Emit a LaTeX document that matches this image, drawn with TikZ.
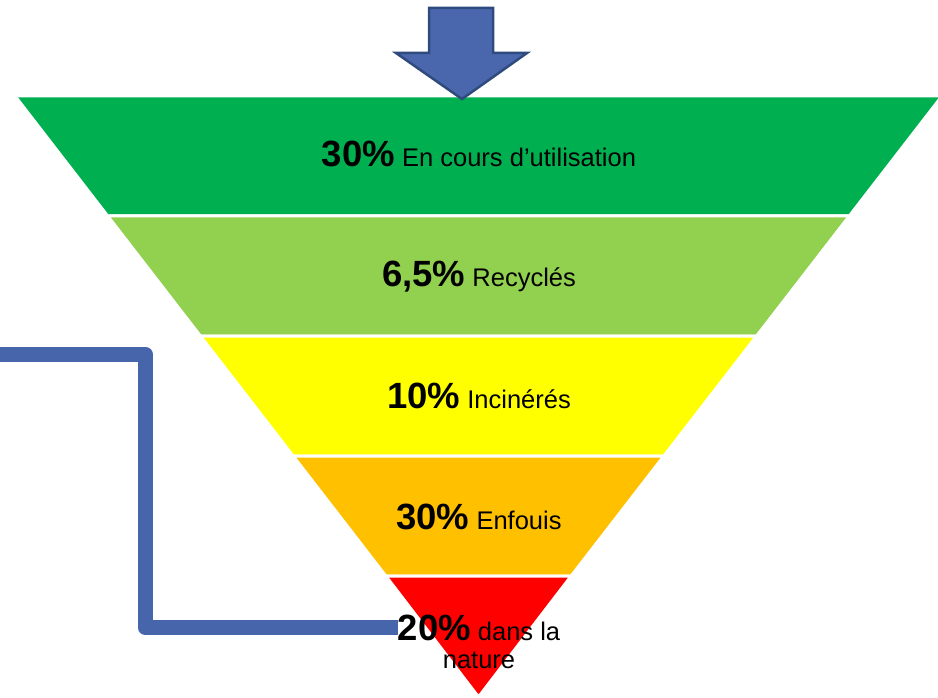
\documentclass[tikz,border=0pt]{standalone}
\usepackage{fontspec}
\setmainfont{Liberation Sans}
\usetikzlibrary{backgrounds}

\definecolor{bandA}{HTML}{00B050}
\definecolor{bandB}{HTML}{92D050}
\definecolor{bandC}{HTML}{FFFF00}
\definecolor{bandD}{HTML}{FFC000}
\definecolor{bandE}{HTML}{FF0000}
\definecolor{arrowfill}{HTML}{4A67AD}
\definecolor{arrowedge}{HTML}{2F4B7E}
\definecolor{loopblue}{HTML}{4665AA}

% big bold share in front of each label
\newcommand{\bandpct}[1]{{\fontsize{36.5}{40}\selectfont\bfseries #1}}

\begin{document}
\begin{tikzpicture}[x=1pt, y=-1pt,
    every node/.style={inner sep=0pt, anchor=base, font=\fontsize{25.5}{28}\selectfont},
    band/.style={draw=white, line width=3pt}]
            \useasboundingbox (0,0) rectangle (938,698);

            % The five layers of the funnel
            \filldraw[band, fill=bandA] (15,96) -- (942,96) -- (849.3,216) -- (107.7,216) -- cycle;
            \filldraw[band, fill=bandB] (107.7,216) -- (849.3,216) -- (756.6,336) -- (200.4,336) -- cycle;
            \filldraw[band, fill=bandC] (200.4,336) -- (756.6,336) -- (663.9,456) -- (293.1,456) -- cycle;
            \filldraw[band, fill=bandD] (293.1,456) -- (663.9,456) -- (571.2,576) -- (385.8,576) -- cycle;
            \filldraw[band, fill=bandE] (385.8,576) -- (571.2,576) -- (478.5,697) -- cycle;

            % Arrow going into the top
            \filldraw[fill=arrowfill, draw=arrowedge, line width=2.5pt]
                (429,8) -- (493,8) -- (493,53) -- (527,53) -- (462,99) -- (396,53) -- (429,53) -- cycle;

            % Labels of the layers
            \node (l1) at (479,167) {\bandpct{30\%} En cours d’utilisation};
            \node (l2) at (479,287) {\bandpct{6,5\%} Recyclés};
            \node (l3) at (479,408) {\bandpct{10\%} Incinérés};
            \node (l4) at (479,529) {\bandpct{30\%} Enfouis};
            \node (l5) at (479,640) {\bandpct{20\%} dans la};
            \node (l5b) at ([yshift=-28pt]l5.base) {nature};

            % Line coming back round to the bottom layer
            \coordinate (spill) at (0,354);
            \coordinate (bend) at (145,354);
            \begin{scope}[on background layer]
                \draw[loopblue, line width=15pt, line join=round] (spill) -- (bend) |- (l5.west);
            \end{scope}

        \end{tikzpicture}
\end{document}
